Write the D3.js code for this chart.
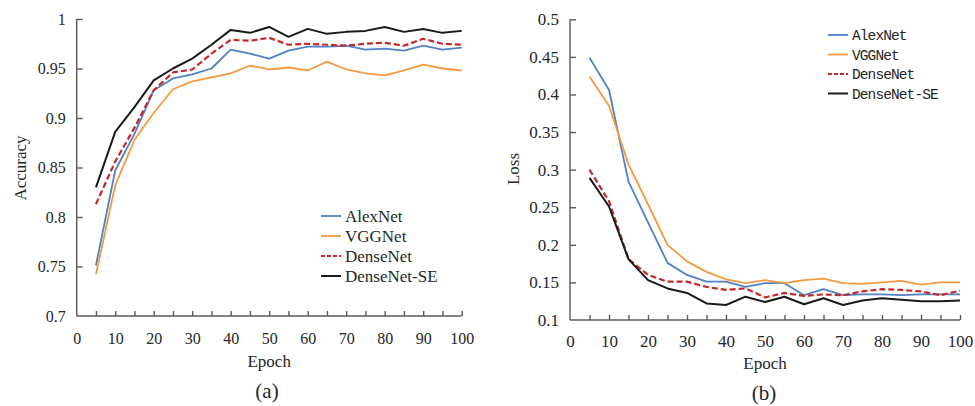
<!DOCTYPE html>
<html>
<head>
<meta charset="utf-8">
<script src="https://cdn.jsdelivr.net/npm/d3@7"></script>
<style>
  body { margin: 0; background: #fff; }
  svg text { font-family: "Palatino Linotype", "Book Antiqua", "Liberation Serif", serif; fill: #262626; }
  .axis path, .axis line { stroke: #595959; stroke-width: 1.4; }
  .mono text { font-family: "Liberation Mono", "DejaVu Sans Mono", monospace; }
</style>
</head>
<body>
<div id="container"></div>
<script>
/* CONSTANTS AND GLOBALS */
const width = 975;
const height = 406;

/* DATA */
const epochs = [5, 10, 15, 20, 25, 30, 35, 40, 45, 50, 55, 60, 65, 70, 75, 80, 85, 90, 95, 100];
const seriesNames = ["AlexNet", "VGGNet", "DenseNet", "DenseNet-SE"];

// (a) accuracy
const accAlexNet = [0.751, 0.847, 0.884, 0.928, 0.940, 0.944, 0.950, 0.969, 0.965, 0.960, 0.968, 0.972, 0.972, 0.973, 0.969, 0.970, 0.968, 0.973, 0.969, 0.971];
const accVGGNet = [0.742, 0.832, 0.878, 0.905, 0.929, 0.937, 0.941, 0.945, 0.953, 0.949, 0.951, 0.948, 0.957, 0.949, 0.945, 0.943, 0.948, 0.954, 0.950, 0.948];
const accDenseNet = [0.813, 0.856, 0.890, 0.928, 0.946, 0.949, 0.965, 0.979, 0.978, 0.981, 0.974, 0.975, 0.974, 0.973, 0.975, 0.976, 0.973, 0.980, 0.975, 0.974];
const accDenseNetSE = [0.830, 0.886, 0.911, 0.938, 0.950, 0.960, 0.974, 0.989, 0.986, 0.992, 0.982, 0.990, 0.985, 0.987, 0.988, 0.992, 0.987, 0.990, 0.986, 0.988];

// (b) loss
const lossAlexNet = [0.449, 0.406, 0.284, 0.230, 0.176, 0.160, 0.151, 0.151, 0.144, 0.149, 0.149, 0.133, 0.141, 0.133, 0.134, 0.134, 0.133, 0.134, 0.134, 0.134];
const lossVGGNet = [0.424, 0.385, 0.307, 0.254, 0.200, 0.178, 0.164, 0.154, 0.149, 0.153, 0.149, 0.153, 0.155, 0.149, 0.148, 0.150, 0.152, 0.147, 0.150, 0.150];
const lossDenseNet = [0.300, 0.258, 0.181, 0.160, 0.151, 0.151, 0.144, 0.140, 0.142, 0.130, 0.136, 0.132, 0.134, 0.133, 0.138, 0.141, 0.140, 0.138, 0.133, 0.139];
const lossDenseNetSE = [0.289, 0.251, 0.181, 0.153, 0.142, 0.136, 0.122, 0.120, 0.131, 0.124, 0.131, 0.121, 0.129, 0.120, 0.126, 0.129, 0.127, 0.125, 0.125, 0.126];

// tick labels
const xTicks = [0, 10, 20, 30, 40, 50, 60, 70, 80, 90, 100];
const accTicks = [0.7, 0.75, 0.8, 0.85, 0.9, 0.95, 1];
const lossTicks = [0.1, 0.15, 0.2, 0.25, 0.3, 0.35, 0.4, 0.45, 0.5];

const colors = ["#4f81c7", "#f7993f", "#c62828", "#1a1a1a"];
const widths = [1.8, 1.8, 2.2, 2];
const dashes = [null, null, "6,3", null];

/* HTML ELEMENTS */
const svg = d3.select("#container")
  .append("svg")
  .attr("width", width)
  .attr("height", height);

function drawPanel(opts) {
  const xScale = d3.scaleLinear()
    .domain([0, 100])
    .range([opts.left, opts.right]);

  const yScale = d3.scaleLinear()
    .domain(d3.extent(opts.yTicks))
    .range([opts.bottom, opts.top]);

  // xAxis: tick marks every 5, labels every 10
  const xAxis = d3.axisBottom(xScale)
    .tickValues(d3.range(0, 101, 5))
    .tickSize(-5)
    .tickPadding(opts.xPad)
    .tickFormat(d => xTicks.includes(d) ? d : "");

  const yAxis = d3.axisLeft(yScale)
    .tickValues(opts.yTicks)
    .tickSize(-6)
    .tickPadding(opts.yPad)
    .tickFormat(d => d);

  svg.append("g")
    .attr("class", "axis")
    .attr("transform", `translate(0, ${opts.bottom})`)
    .style("font-size", opts.tickFont)
    .call(xAxis)
    .call(g => g.select(".domain").attr("d", `M${opts.left},0H${opts.right}`))
    .call(g => g.selectAll(".tick").filter(d => d === 0).select("line").remove());

  svg.append("g")
    .attr("class", "axis")
    .attr("transform", `translate(${opts.left}, 0)`)
    .style("font-size", opts.tickFont)
    .call(yAxis)
    .call(g => g.select(".domain").attr("d", `M0,${opts.top}V${opts.bottom}`))
    .call(g => g.selectAll(".tick").filter(d => d === opts.yTicks[0]).select("line").remove());

  svg.selectAll(".axis text").attr("fill", "#262626");

  // lines
  const line = d3.line()
    .x((d, i) => xScale(epochs[i]))
    .y(d => yScale(d));

  opts.series.forEach((s, i) => {
    svg.append("path")
      .datum(s)
      .attr("fill", "none")
      .attr("stroke", colors[i])
      .attr("stroke-width", widths[i])
      .attr("stroke-dasharray", dashes[i])
      .attr("stroke-linejoin", "round")
      .attr("d", line);
  });

  // legend
  const legend = svg.append("g")
    .attr("class", opts.legendClass)
    .attr("transform", `translate(${opts.legendX}, ${opts.legendY})`);

  seriesNames.forEach((name, i) => {
    legend.append("line")
      .attr("x1", 0)
      .attr("x2", 20)
      .attr("y1", i * opts.legendStep)
      .attr("y2", i * opts.legendStep)
      .attr("stroke", colors[i])
      .attr("stroke-width", widths[i])
      .attr("stroke-dasharray", dashes[i] ? "4,2" : null);
    legend.append("text")
      .attr("x", 24)
      .attr("y", i * opts.legendStep)
      .attr("dy", "0.35em")
      .style("font-size", opts.legendFont)
      .style("letter-spacing", opts.legendSpacing)
      .text(name);
  });

  // xAxis title
  svg.append("text")
    .attr("text-anchor", "middle")
    .attr("x", (opts.left + opts.right) / 2)
    .attr("y", opts.epochY)
    .attr("dy", "0.35em")
    .style("font-size", "17px")
    .text("Epoch");

  // yAxis title
  svg.append("text")
    .attr("text-anchor", "middle")
    .attr("transform", `translate(${opts.yTitleX}, ${opts.yTitleY}) rotate(-90)`)
    .attr("dy", "0.35em")
    .style("font-size", "17px")
    .text(opts.yTitle);

  // panel caption
  svg.append("text")
    .attr("text-anchor", "middle")
    .attr("x", opts.captionX)
    .attr("y", opts.captionY)
    .attr("dy", "0.35em")
    .style("font-size", "21px")
    .text(opts.caption);
}

drawPanel({
  left: 76.7, right: 461.7, top: 19, bottom: 316,
  yTicks: accTicks, xPad: 17, yPad: 11, tickFont: "16px",
  series: [accAlexNet, accVGGNet, accDenseNet, accDenseNetSE],
  legendX: 321, legendY: 216, legendStep: 20, legendFont: "17px", legendSpacing: null, legendClass: "legend",
  epochY: 361, yTitle: "Accuracy", yTitleX: 20, yTitleY: 168,
  caption: "(a)", captionX: 267, captionY: 391
});

drawPanel({
  left: 570, right: 960, top: 19.3, bottom: 320,
  yTicks: lossTicks, xPad: 15, yPad: 11, tickFont: "17px",
  series: [lossAlexNet, lossVGGNet, lossDenseNet, lossDenseNetSE],
  legendX: 828, legendY: 35, legendStep: 19.5, legendFont: "14.5px", legendSpacing: "-0.9px", legendClass: "mono",
  epochY: 363, yTitle: "Loss", yTitleX: 513, yTitleY: 169,
  caption: "(b)", captionX: 764, captionY: 393
});
</script>
</body>
</html>
